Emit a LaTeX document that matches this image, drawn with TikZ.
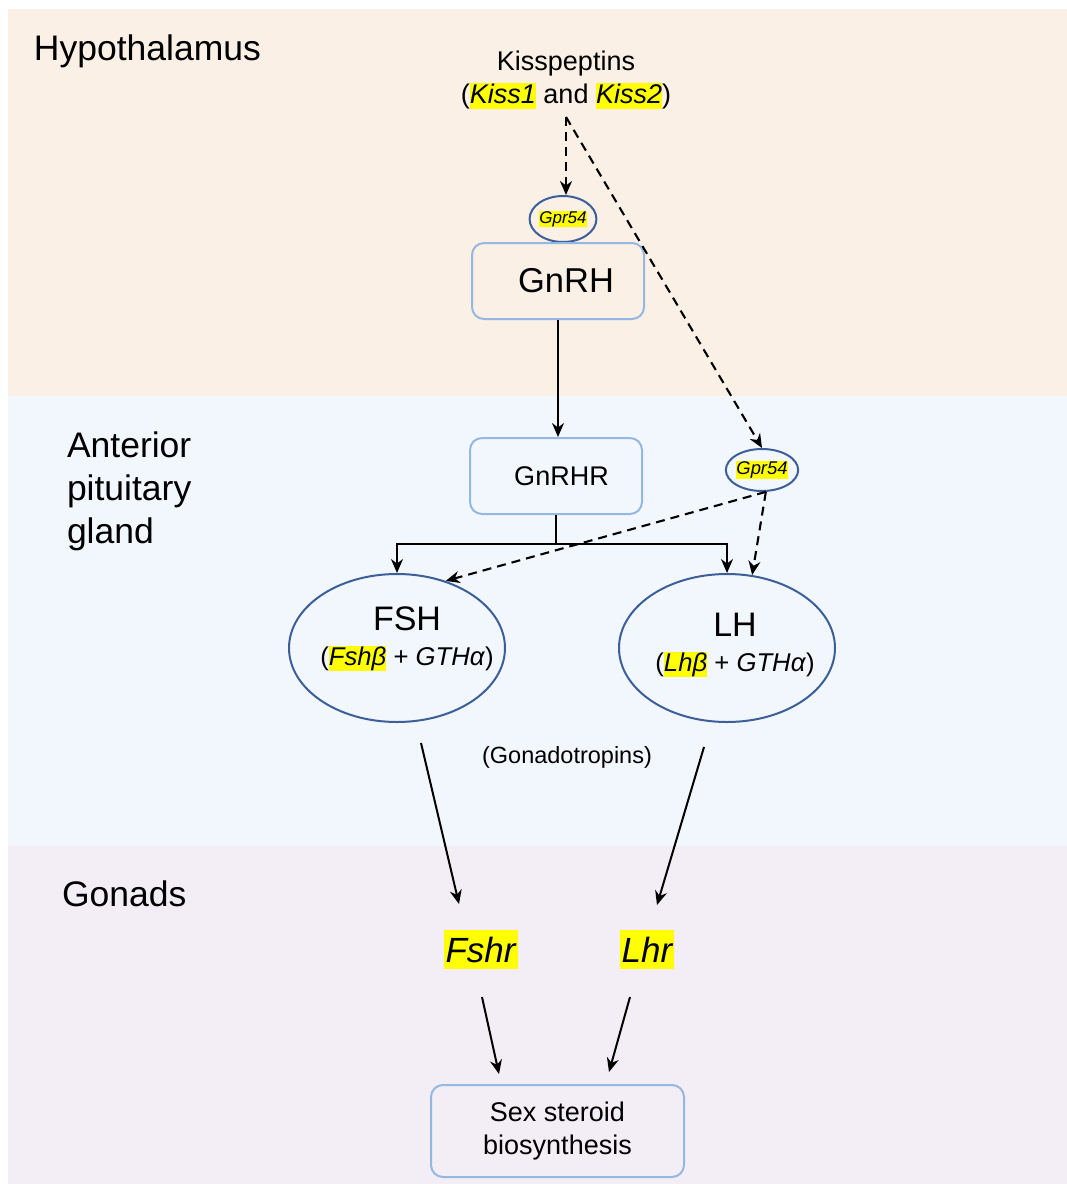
\documentclass[tikz,border=0pt]{standalone}
\usepackage{fontspec}
\setmainfont{Liberation Sans}
\usetikzlibrary{arrows.meta,shapes.geometric}

\definecolor{hypoband}{HTML}{FAF0E6}
\definecolor{pitband}{HTML}{F2F7FD}
\definecolor{gonband}{HTML}{F3EDF6}
\definecolor{boxline}{HTML}{95B8E3}
\definecolor{ovalline}{HTML}{3C5F9A}
\definecolor{hlyellow}{HTML}{FFFF00}

\newcommand{\hly}[1]{{\setlength{\fboxsep}{0pt}\colorbox{hlyellow}{\rule[-0.22em]{0pt}{0.98em}#1}}}
\newcommand{\fsz}[2]{\fontsize{#1}{#2}\selectfont}

\tikzset{
  lbl/.style={inner sep=0pt, font=\fsz{35.5}{43}},
  rbox/.style={draw=boxline, rounded corners=12pt, line width=2pt,
    minimum width=172pt, minimum height=76pt},
  oval/.style={ellipse, draw=ovalline, line width=2pt, inner sep=0pt},
  gene/.style={fill=hlyellow, inner sep=2pt, text height=30pt, text depth=5pt,
    font=\fsz{35}{40}\itshape},
  dasharr/.style={->, dash pattern=on 9pt off 6pt, line width=2.1pt}
}

\begin{document}
\begin{tikzpicture}[x=1pt, y=-1pt, >={Stealth[length=14pt,width=12pt]}, line width=2pt]
  \useasboundingbox (0,0) rectangle (1067,1184);
  % bands
  \fill[hypoband] (8,9) rectangle (1067,396);
  \fill[pitband] (8,396) rectangle (1067,846);
  \fill[gonband] (8,846) rectangle (1067,1184);
  % level labels
  \node[lbl, anchor=base west] (hypo) at (33,60) {Hypothalamus};
  \node[lbl, anchor=north west, align=left] (pit) at (66,430.6) {Anterior\\pituitary\\gland};
  \node[lbl, anchor=base west] (gon) at (61,906) {Gonads};
  % hypothalamus
  \node[inner sep=0pt, anchor=north, align=center, font=\fsz{27}{33}] (kiss) at (566,49.7)
    {Kisspeptins\\(\hly{\textit{Kiss1}} and \hly{\textit{Kiss2}})};
  \coordinate (ksrc) at (566,117);
  \node[oval, minimum width=66pt, minimum height=46pt, font=\fsz{17}{20}\itshape] (gprA) at (563,219) {\hly{Gpr54}};
  \node[rbox, font=\fsz{34.5}{40}] (gnrh) at (558,281) {\hspace{16pt}GnRH};
  % pituitary
  \node[rbox, font=\fsz{27}{32}] (gnrhr) at (556,476) {\hspace{11pt}GnRHR};
  \node[oval, minimum width=72pt, minimum height=42pt, font=\fsz{18.4}{22}\itshape] (gprB) at (762,470) {\hly{Gpr54}};
  \node[oval, minimum width=216pt, minimum height=148pt] (fsh) at (397,648) {};
  \node[oval, minimum width=216pt, minimum height=148pt] (lh) at (727,648) {};
  \node[inner sep=0pt, anchor=north, align=center, font=\fsz{25.7}{35}] (fshtxt) at (407,605.7)
    {{\fsz{34}{40}FSH}\\(\hly{\textit{Fshβ}} + \textit{GTHα})};
  \node[inner sep=0pt, anchor=north, align=center, font=\fsz{25.7}{35}] (lhtxt) at (735,611.7)
    {{\fsz{34}{40}LH}\\(\hly{\textit{Lhβ}} + \textit{GTHα})};
  \node[font=\fsz{23.5}{28}] (gonadotr) at (567,757) {(Gonadotropins)};
  % gonads
  \node[gene] (fshr) at (480.5,949.5) {Fshr};
  \node[gene] (lhr) at (647,949.5) {Lhr};
  \node[rbox, minimum width=253pt, minimum height=92pt, align=center, font=\fsz{27}{33}] (sex) at (557.5,1131)
    {Sex steroid\\biosynthesis};
  % arrows
  \draw[->] (gnrh.south) -- (gnrh.south |- gnrhr.north);
  \coordinate (split) at (gnrhr.south |- 0,544);
  \draw (gnrhr.south) -- (split);
  \draw[->] (split) -| (fsh.north);
  \draw[->] (split) -| (lh.north);
  \draw[dasharr] (ksrc) -- (ksrc |- gprA.north);
  \draw[dasharr] (ksrc) -- (gprB.north);
  \draw[dasharr] (gprB.-80) -- (fsh.54);
  \draw[dasharr] (gprB.-80) -- (lh.71);
  \draw[->] ([shift={(24,20)}]fsh.south) -- ([shift={(-21.5,-25)}]fshr.north);
  \draw[->] ([shift={(-23,24)}]lh.south) -- ([shift={(10,-24)}]lhr.north);
  \draw[->] ([shift={(1.5,27)}]fshr.south) -- ([shift={(-58.5,-10)}]sex.north);
  \draw[->] ([shift={(-17,27)}]lhr.south) -- ([shift={(51.5,-12)}]sex.north);
\end{tikzpicture}
\end{document}
